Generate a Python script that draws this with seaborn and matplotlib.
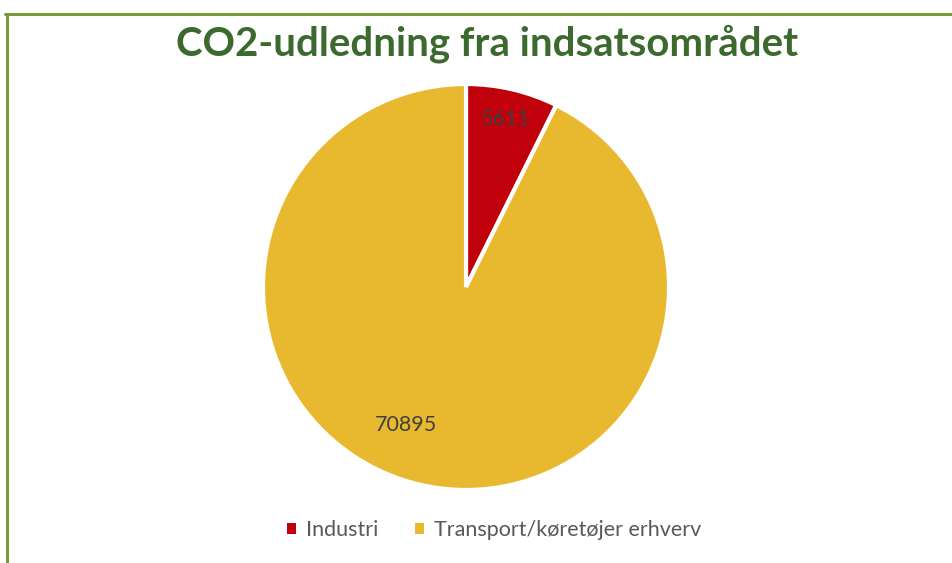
import matplotlib
matplotlib.use("Agg")
import matplotlib.pyplot as plt
from matplotlib.patches import Patch
from matplotlib.lines import Line2D
import seaborn as sns
import numpy as np

categories = ["Industri", "Transport/køretøjer erhverv"]
values = [5611, 70895]
colors = ["#C0000B", "#E8B92F"]
title = "CO2-udledning fra indsatsområdet"

sns.set_theme(style="white")
plt.rcParams['font.family'] = ['Lato', 'DejaVu Sans']

W, H = 953, 563
fig = plt.figure(figsize=(W/100, H/100), dpi=100)
fig.patch.set_facecolor("white")

cx, cy, r = 466, 287, 203
ax = fig.add_axes([(cx - r)/W, (H - cy - r)/H, 2*r/W, 2*r/H])
wedges, texts = ax.pie(values, colors=colors, startangle=90, counterclock=False,
                       radius=1, wedgeprops=dict(edgecolor="white", linewidth=3))
ax.set_xlim(-1.0, 1.0)
ax.set_ylim(-1.0, 1.0)
ax.set_aspect("equal")
ax.axis("off")

# data labels (Excel best-fit placement)
total = sum(values)
start = 90.0
label_r = [0.85, 0.74]
label_shift = [0.0, -10.3]
for v, lr, sh in zip(values, label_r, label_shift):
    span = 360.0 * v / total
    mid = np.deg2rad(start - span / 2 + sh)
    ax.text(lr*np.cos(mid), lr*np.sin(mid), f"{v}", ha="center", va="center",
            fontsize=15.5, color="#404040")
    start -= span

fig.text(487/W, 1 - 44/H, title, ha="center", va="center", fontsize=29,
         fontweight="bold", color="#3C6A2E")

handles = [Patch(facecolor=c, edgecolor="none") for c in colors]
leg = fig.legend(handles, categories, loc="center", bbox_to_anchor=(494/W, 1 - 530/H),
                 ncol=2, frameon=False, fontsize=15.5, handlelength=0.42, handleheight=0.42,
                 handletextpad=0.45, columnspacing=1.7)
for t in leg.get_texts():
    t.set_color("#595959")

border = "#7A9A3A"
fig.add_artist(Line2D([5/W, 1.0], [1 - 14/H, 1 - 14/H], color=border, linewidth=2.2,
                      transform=fig.transFigure))
fig.add_artist(Line2D([7/W, 7/W], [0.0, 1 - 14/H], color=border, linewidth=2.2,
                      transform=fig.transFigure))

fig.savefig("out.png", dpi=100, facecolor="white")
